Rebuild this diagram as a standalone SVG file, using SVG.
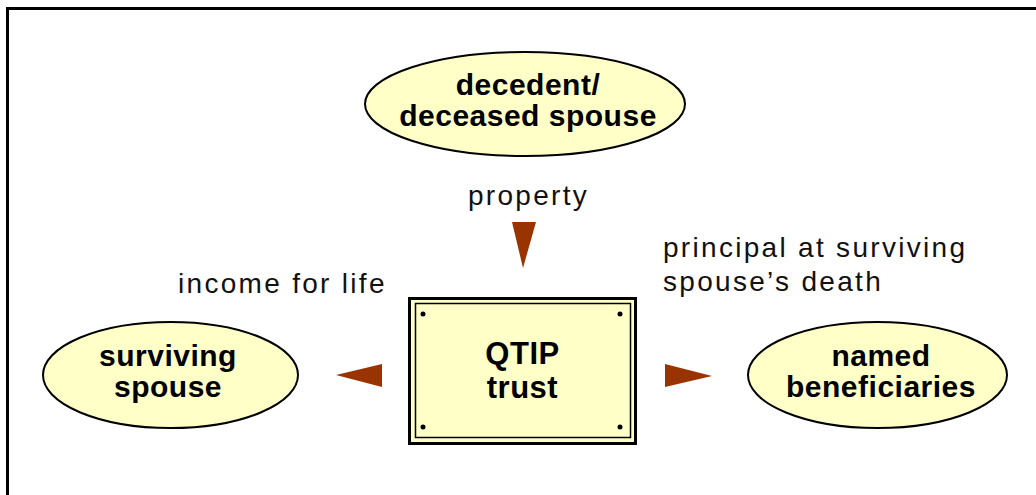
<svg xmlns="http://www.w3.org/2000/svg" width="1036" height="495" viewBox="0 0 1036 495">
<style>
.node{fill:#FFFFC8;stroke:#000;stroke-width:2}
.title{font-family:"Liberation Sans",Arial,sans-serif;font-weight:bold;font-size:30px;fill:#000;text-anchor:middle;letter-spacing:0.5px}
.lbl{font-family:"Liberation Sans",Arial,sans-serif;font-size:28px;fill:#111;letter-spacing:2.3px}
.arrow{fill:#993300}
.dot{fill:#000}
</style>
<rect width="1036" height="495" fill="#fff"/>
<path d="M7.5 495 V8.5 H1036" fill="none" stroke="#000" stroke-width="3"/>
<g id="decedent">
<ellipse class="node" cx="525" cy="104" rx="160" ry="52"/>
<text class="title" x="528" y="95">decedent/</text>
<text class="title" x="528" y="126">deceased spouse</text>
</g>
<g id="surviving">
<ellipse class="node" cx="170.5" cy="375" rx="127.5" ry="53"/>
<text class="title" x="168" y="366">surviving</text>
<text class="title" x="168" y="397">spouse</text>
</g>
<g id="beneficiaries">
<ellipse class="node" cx="877.5" cy="375" rx="129.5" ry="53"/>
<text class="title" x="881" y="366">named</text>
<text class="title" x="881" y="397">beneficiaries</text>
</g>
<g id="qtip">
<rect x="409.5" y="298.5" width="226" height="145" fill="#FFFFC8" stroke="#000" stroke-width="3"/>
<rect x="415.5" y="303.5" width="215" height="134" fill="none" stroke="#000" stroke-width="1.5"/>
<circle class="dot" cx="423" cy="314" r="2.5"/>
<circle class="dot" cx="620" cy="314" r="2.5"/>
<circle class="dot" cx="423" cy="427" r="2.5"/>
<circle class="dot" cx="620" cy="427" r="2.5"/>
<text class="title" x="522.5" y="364" style="font-size:31px">QTIP</text>
<text class="title" x="522.5" y="398" style="font-size:31px">trust</text>
</g>
<g id="connectors">
<polygon class="arrow" points="512,222 536,222 523,268"/>
<polygon class="arrow" points="336,375 382,364 382,387"/>
<polygon class="arrow" points="665,364 665,387 712,376"/>
<text class="lbl" x="468" y="205">property</text>
<text class="lbl" x="178" y="293">income for life</text>
<text class="lbl" x="663" y="257">principal at surviving</text>
<text class="lbl" x="663" y="291">spouse’s death</text>
</g>
</svg>
